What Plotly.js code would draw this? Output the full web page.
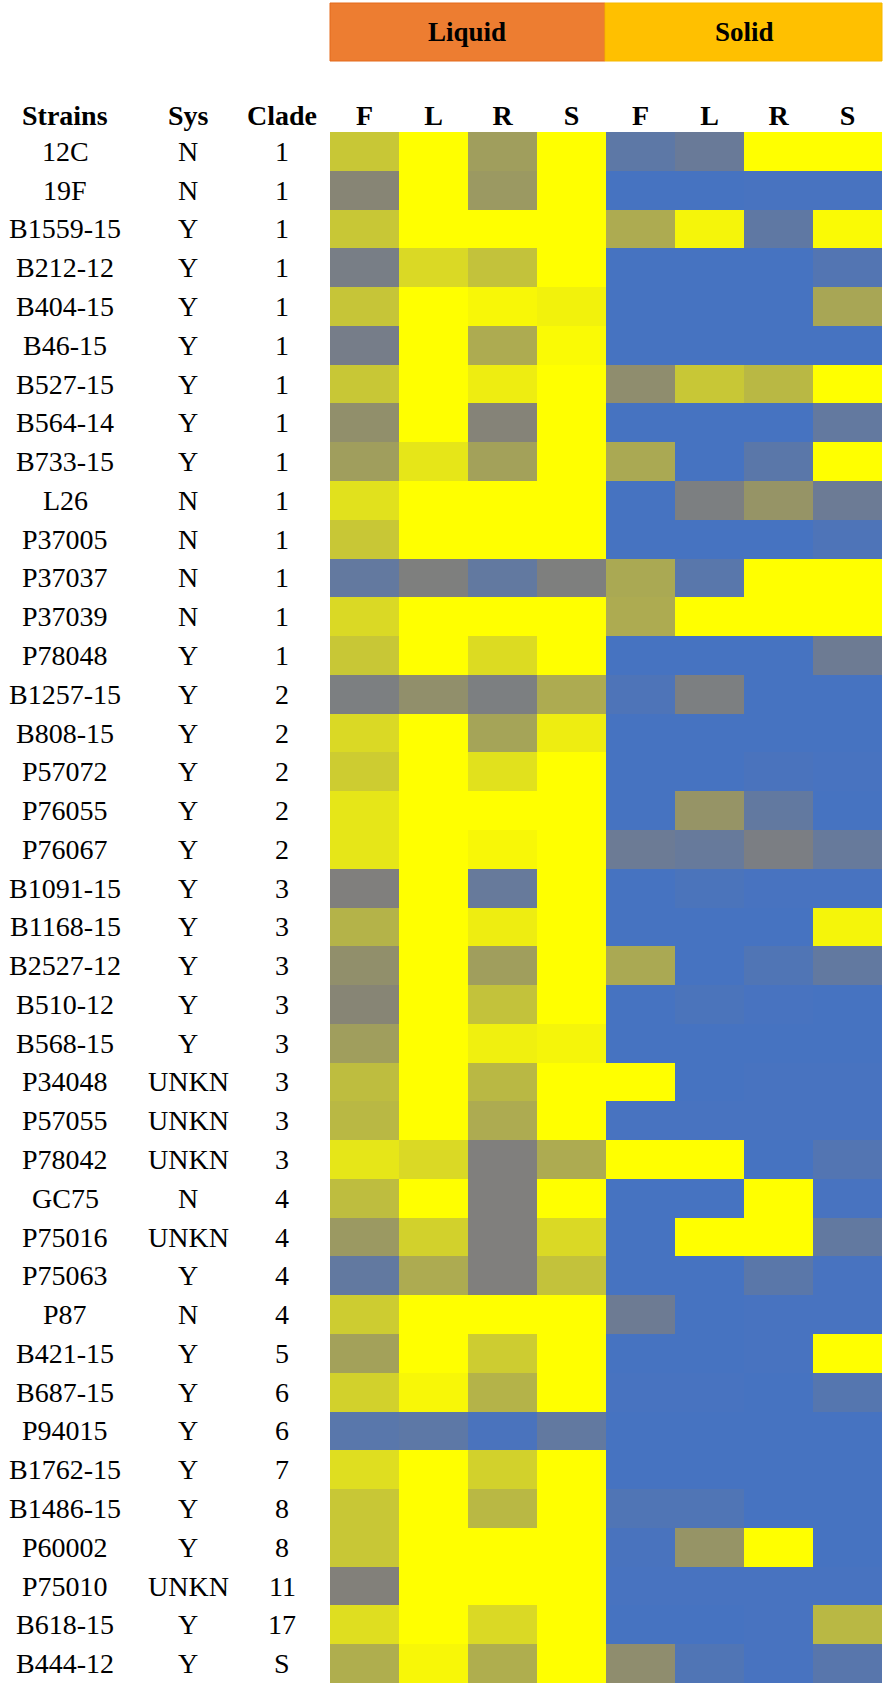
<!DOCTYPE html>
<html>
<head>
<meta charset="utf-8">
<script src="https://cdn.plot.ly/plotly-3.0.1.min.js"></script>
<style>
  body { margin: 0; background: #fff; }
  #chart { width: 886px; height: 1686px; }
</style>
</head>
<body>
<div id="chart"></div>
<script>
// strain table
var strains = ['12C', '19F', 'B1559-15', 'B212-12', 'B404-15', 'B46-15', 'B527-15', 'B564-14',
    'B733-15', 'L26', 'P37005', 'P37037', 'P37039', 'P78048', 'B1257-15', 'B808-15', 'P57072',
    'P76055', 'P76067', 'B1091-15', 'B1168-15', 'B2527-12', 'B510-12', 'B568-15', 'P34048',
    'P57055', 'P78042', 'GC75', 'P75016', 'P75063', 'P87', 'B421-15', 'B687-15', 'P94015',
    'B1762-15', 'B1486-15', 'P60002', 'P75010', 'B618-15', 'B444-12']
var sys = ['N', 'N', 'Y', 'Y', 'Y', 'Y', 'Y', 'Y', 'Y', 'N', 'N', 'N', 'N', 'Y', 'Y', 'Y', 'Y',
    'Y', 'Y', 'Y', 'Y', 'Y', 'Y', 'Y', 'UNKN', 'UNKN', 'UNKN', 'N', 'UNKN', 'Y', 'N', 'Y', 'Y',
    'Y', 'Y', 'Y', 'Y', 'UNKN', 'Y', 'Y']
var clade = ['1', '1', '1', '1', '1', '1', '1', '1', '1', '1', '1', '1', '1', '1', '2', '2', '2',
    '2', '2', '3', '3', '3', '3', '3', '3', '3', '3', '4', '4', '4', '4', '5', '6', '6', '7', '8',
    '8', '11', '17', 'S']

var colLabels = ['F', 'L', 'R', 'S', 'F', 'L', 'R', 'S']
var groups = ['Liquid', 'Solid']

// scaled values (0 = blue, 0.5 = grey, 1 = yellow)
var liqF = [0.78, 0.52, 0.78, 0.42, 0.77, 0.40, 0.78, 0.56, 0.62, 0.88, 0.78, 0.25, 0.85, 0.78,
    0.45, 0.85, 0.80, 0.90, 0.90, 0.48, 0.70, 0.56, 0.52, 0.62, 0.74, 0.72, 0.90, 0.74, 0.60,
    0.24, 0.80, 0.63, 0.82, 0.17, 0.87, 0.78, 0.78, 0.50, 0.87, 0.68]
var liqL = [1, 1, 1, 0.85, 1, 1, 1, 1, 0.90, 1, 1, 0.47, 1, 1, 0.56, 1, 1, 1, 1, 1, 1, 1, 1, 1,
    1, 1, 0.85, 1, 0.82, 0.67, 1, 1, 0.97, 0.20, 1, 1, 1, 1, 1, 0.97]
var liqR = [0.62, 0.60, 1, 0.76, 0.97, 0.67, 0.93, 0.51, 0.63, 1, 1, 0.24, 1, 0.86, 0.45, 0.64,
    0.88, 1, 0.97, 0.28, 0.93, 0.62, 0.76, 0.94, 0.72, 0.67, 0.48, 0.48, 0.48, 0.48, 1, 0.80,
    0.70, 0.05, 0.82, 0.72, 1, 1, 0.85, 0.68]
var liqS = [1, 1, 1, 1, 0.95, 0.98, 1, 1, 1, 1, 1, 0.47, 1, 1, 0.67, 0.93, 1, 1, 1, 1, 1, 1, 1,
    0.96, 1, 1, 0.67, 1, 0.85, 0.76, 1, 1, 1, 0.24, 1, 1, 1, 1, 1, 1]
var solF = [0.20, 0.02, 0.67, 0.02, 0.02, 0.02, 0.55, 0.02, 0.66, 0.02, 0.02, 0.66, 0.67, 0.02,
    0.08, 0.02, 0.02, 0.02, 0.32, 0.02, 0.02, 0.66, 0.02, 0.02, 1, 0.03, 1, 0.02, 0.02, 0.02,
    0.33, 0.02, 0.03, 0.02, 0.02, 0.10, 0.04, 0.03, 0.02, 0.55]
var solL = [0.30, 0.02, 0.96, 0.02, 0.02, 0.02, 0.78, 0.02, 0.02, 0.45, 0.02, 0.17, 1, 0.02,
    0.45, 0.02, 0.02, 0.58, 0.28, 0.06, 0.02, 0.02, 0.06, 0.02, 0.02, 0.03, 1, 0.02, 1, 0.02,
    0.02, 0.02, 0.03, 0.02, 0.02, 0.10, 0.58, 0.03, 0.02, 0.10]
var solR = [1, 0.03, 0.22, 0.02, 0.02, 0.02, 0.72, 0.02, 0.18, 0.58, 0.02, 1, 1, 0.02, 0.02,
    0.02, 0.05, 0.24, 0.44, 0.03, 0.02, 0.10, 0.03, 0.02, 0.03, 0.03, 0.02, 1, 1, 0.18, 0.03,
    0.03, 0.02, 0.02, 0.02, 0.02, 1, 0.03, 0.03, 0.03]
var solS = [1, 0.03, 0.98, 0.12, 0.65, 0.02, 1, 0.25, 1, 0.32, 0.08, 1, 1, 0.33, 0.02, 0.02,
    0.03, 0.02, 0.28, 0.03, 0.96, 0.24, 0.02, 0.02, 0.03, 0.03, 0.12, 0.03, 0.24, 0.03, 0.03, 1,
    0.14, 0.02, 0.02, 0.02, 0.02, 0.03, 0.72, 0.16]

var W = 886, H = 1686
function px(x) { return x / W }
function py(y) { return 1 - y / H }

var cols = [liqF, liqL, liqR, liqS, solF, solL, solR, solS]
var z = strains.map(function (s, i) {
    return cols.map(function (c) { return c[i] })
})

var serif = 'Liberation Serif, Times New Roman, serif'

var trace = {
    type: 'heatmap',
    x: [0, 1, 2, 3, 4, 5, 6, 7],
    y: strains,
    z: z,
    zmin: 0, zmax: 1,
    colorscale: [[0, '#4472C4'], [0.5, '#82807A'], [1, '#FFFF00']],
    showscale: false,
    hoverongaps: false
}

function label(x, y, yref, text, size) {
    return {x: x, y: y, xref: 'paper', yref: yref, text: text, showarrow: false,
        xanchor: 'center', yanchor: 'middle',
        font: {family: serif, size: size, color: '#000'}}
}

var ann = []
strains.forEach(function (s, i) {
    ann.push(label(px(65), s, 'y', s, 28))
    ann.push(label(px(188), s, 'y', sys[i], 28))
    ann.push(label(px(282), s, 'y', clade[i], 28))
})
var heads = [['Strains', 65], ['Sys', 188], ['Clade', 282]]
heads.forEach(function (h) {
    ann.push(label(px(h[1]), py(115), 'paper', '<b>' + h[0] + '</b>', 28))
})
ann.push(label(px(467), py(32), 'paper', '<b>' + groups[0] + '</b>', 27))
ann.push(label(px(744), py(32), 'paper', '<b>' + groups[1] + '</b>', 27))

var shapes = [
    {type: 'rect', xref: 'paper', yref: 'paper', x0: px(330), x1: px(605), y0: py(61), y1: py(3),
        fillcolor: '#ED7D31', line: {color: '#E46A1C', width: 1}, layer: 'below'},
    {type: 'rect', xref: 'paper', yref: 'paper', x0: px(605), x1: px(882), y0: py(61), y1: py(3),
        fillcolor: '#FFC000', line: {color: '#F5B800', width: 1}, layer: 'below'}
]

var layout = {
    width: W, height: H,
    margin: {l: 0, r: 0, t: 0, b: 0},
    paper_bgcolor: '#fff', plot_bgcolor: '#fff',
    showlegend: false,
    xaxis: {
        domain: [px(330), px(882)],
        range: [-0.5, 7.5],
        side: 'top',
        tickvals: [0, 1, 2, 3, 4, 5, 6, 7],
        ticktext: colLabels.map(function (t) { return '<b>' + t + '</b>' }),
        tickfont: {family: serif, size: 28, color: '#000'},
        ticks: '', showgrid: false, zeroline: false, showline: false,
        fixedrange: true
    },
    yaxis: {
        domain: [py(1683), py(132)],
        type: 'category',
        autorange: 'reversed',
        showticklabels: false, ticks: '',
        showgrid: false, zeroline: false, showline: false,
        fixedrange: true
    },
    annotations: ann,
    shapes: shapes
}

Plotly.newPlot('chart', [trace], layout, {displayModeBar: false, staticPlot: true})
</script>
</body>
</html>
